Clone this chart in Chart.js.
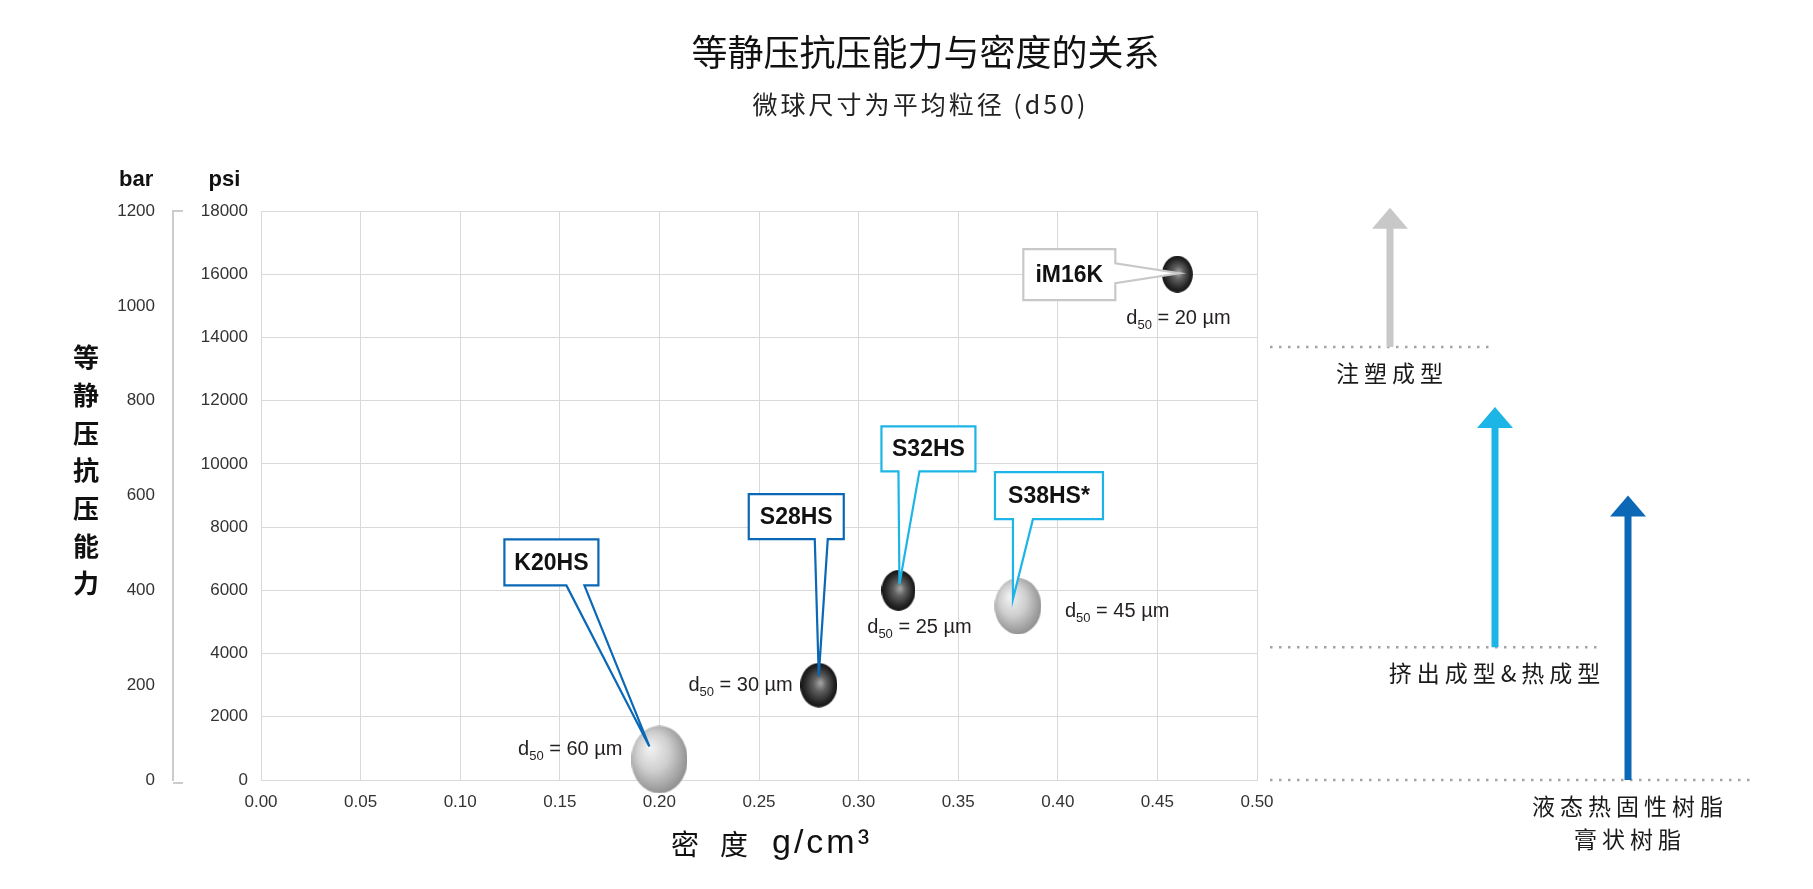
<!DOCTYPE html>
<html lang="zh">
<head>
<meta charset="UTF-8">
<title>等静压抗压能力与密度的关系</title>
<script src="https://cdn.jsdelivr.net/npm/chart.js"></script>
<style>
  html, body { margin: 0; padding: 0; background: #fff; }
</style>
</head>
<body>
<canvas id="myChart" width="1813" height="889"></canvas>
<script>
// values
const grades = ['K20HS', 'S28HS', 'S32HS', 'S38HS*', 'iM16K']
const density = [0.20, 0.28, 0.32, 0.38, 0.46]        // g/cm3
const strengthPsi = [650, 3000, 6000, 5500, 16000]   // psi
const d50 = [60, 30, 25, 45, 20]                     // um

// axes
const psiMax = 18000, psiStep = 2000
const barMax = 1200, barStep = 200
const densityMax = 0.5, densityStep = 0.05

// processing windows on the right (psi)
const processNames = [['注塑成型'], ['挤出成型&热成型'], ['液态热固性树脂', '膏状树脂']]
const processMinPsi = [13700, 4200, 0]
const processArrowPsi = [18100, 11800, 9000]

// ---- styles ----
const LATIN = '"Liberation Sans", Arial, sans-serif'
const CJK = '"Noto Sans CJK SC", "Noto Sans", sans-serif'
const GRID = '#d9d9d9'
const DARKBLUE = '#0a68b6'
const CYAN = '#1db5e6'
const LIGHTGRAY = '#c8c8c8'

const ballShade = ['light', 'dark', 'dark', 'light', 'dark']
const calloutColor = [DARKBLUE, DARKBLUE, CYAN, CYAN, LIGHTGRAY]
// callout box relative to ball centre: [left, top, w, h]; pointer base along edge; tip
const callouts = [
  {box: [-155, -220, 94, 46], side: 'bottom', base: [-93, -75], tip: [-10, -13]},
  {box: [-70, -191, 95, 45], side: 'bottom', base: [-4, 9], tip: [0, -9]},
  {box: [-17, -164, 94, 45], side: 'bottom', base: [0, 21], tip: [1, -6]},
  {box: [-23, -134, 108, 47], side: 'bottom', base: [-5, 15], tip: [-5, -7]},
  {box: [-154, -25, 92, 51], side: 'right', base: [-11, 9], tip: [2, -1]}
]
const d50Pos = [
  {dx: -37, dy: -10, align: 'right'},
  {dx: -26, dy: 0, align: 'right'},
  {dx: 21, dy: 37, align: 'center'},
  {dx: 47, dy: 5, align: 'left'},
  {dx: -51, dy: 44, align: 'left'}
]
const processColor = [LIGHTGRAY, CYAN, DARKBLUE]
const arrowDx = [133, 238, 371]      // from right edge of plot
const dottedEnd = [238, 343, 493]

function makeBall(rx, ry, shade) {
  const c = document.createElement('canvas')
  c.width = Math.round(rx * 2)
  c.height = Math.round(ry * 2)
  const g = c.getContext('2d')
  g.translate(c.width / 2, c.height / 2)
  g.scale(1, ry / rx)
  let grad
  if (shade === 'dark') {
    grad = g.createRadialGradient(rx * 0.1, -rx * 0.1, 0, 0, 0, rx)
    grad.addColorStop(0, '#a8a8a8')
    grad.addColorStop(0.35, '#606060')
    grad.addColorStop(0.8, '#262626')
    grad.addColorStop(1, '#141414')
  } else {
    grad = g.createRadialGradient(-rx * 0.35, -rx * 0.35, 0, -rx * 0.1, -rx * 0.1, rx * 1.15)
    grad.addColorStop(0, '#f4f4f4')
    grad.addColorStop(0.5, '#cfcfcf')
    grad.addColorStop(1, '#8e8e8e')
  }
  g.fillStyle = grad
  g.beginPath()
  g.arc(0, 0, rx, 0, Math.PI * 2)
  g.fill()
  return c
}

const ballRx = d50.map(d => 9 + 0.32 * d)
const balls = d50.map((d, i) => makeBall(ballRx[i], ballRx[i] * 1.2, ballShade[i]))

function drawD50(ctx, x, y, align, val) {
  const big = '20px ' + LATIN, small = '13px ' + LATIN
  const rest = ' = ' + val + ' µm'
  ctx.font = big
  const wd = ctx.measureText('d').width
  const wr = ctx.measureText(rest).width
  ctx.font = small
  const ws = ctx.measureText('50').width
  const total = wd + ws + wr
  let x0 = x
  if (align === 'right') x0 = x - total
  if (align === 'center') x0 = x - total / 2
  ctx.fillStyle = '#231f20'
  ctx.textAlign = 'left'
  ctx.textBaseline = 'middle'
  ctx.font = big
  ctx.fillText('d', x0, y)
  ctx.font = small
  ctx.fillText('50', x0 + wd, y + 7)
  ctx.font = big
  ctx.fillText(rest, x0 + wd + ws, y)
}

const extras = {
  id: 'extras',
  afterDatasetsDraw(chart) {
    const ctx = chart.ctx
    const meta = chart.getDatasetMeta(0)
    ctx.save()
    meta.data.forEach((pt, i) => {
      const c = callouts[i]
      const [bl, bt, bw, bh] = c.box
      const L = pt.x + bl, T = pt.y + bt, R = L + bw, B = T + bh
      const tx = pt.x + c.tip[0], ty = pt.y + c.tip[1]
      ctx.beginPath()
      ctx.moveTo(L, T)
      ctx.lineTo(R, T)
      if (c.side === 'bottom') {
        ctx.lineTo(R, B)
        ctx.lineTo(pt.x + c.base[1], B)
        ctx.lineTo(tx, ty)
        ctx.lineTo(pt.x + c.base[0], B)
        ctx.lineTo(L, B)
      } else {
        ctx.lineTo(R, pt.y + c.base[0])
        ctx.lineTo(tx, ty)
        ctx.lineTo(R, pt.y + c.base[1])
        ctx.lineTo(R, B)
        ctx.lineTo(L, B)
      }
      ctx.closePath()
      ctx.fillStyle = '#fff'
      ctx.fill()
      ctx.strokeStyle = calloutColor[i]
      ctx.lineWidth = 2.2
      ctx.lineJoin = 'miter'
      ctx.stroke()
      ctx.fillStyle = '#111'
      ctx.font = 'bold 23px ' + LATIN
      ctx.textAlign = 'center'
      ctx.textBaseline = 'middle'
      ctx.fillText(grades[i], L + bw / 2, T + bh / 2 + 1)

      const p = d50Pos[i]
      drawD50(ctx, pt.x + p.dx, pt.y + p.dy, p.align, d50[i])
    })
    ctx.restore()
  },
  afterDraw(chart) {
    const ctx = chart.ctx
    const area = chart.chartArea
    const psi = chart.scales.psi
    const bar = chart.scales.bar
    ctx.save()

    // titles
    ctx.fillStyle = '#111'
    ctx.textAlign = 'center'
    ctx.textBaseline = 'middle'
    ctx.font = '36px ' + CJK
    ctx.fillText('等静压抗压能力与密度的关系', chart.width / 2 + 19, 52)
    ctx.fillStyle = '#222'
    ctx.font = '25px ' + CJK
    ctx.letterSpacing = '3px'
    ctx.fillText('微球尺寸为平均粒径 (d50)', chart.width / 2 + 14, 104)
    ctx.letterSpacing = '0px'

    // x axis title, spaced out as in the original
    const xMid = (area.left + area.right) / 2
    const ty = area.bottom + 64
    ctx.fillStyle = '#111'
    ctx.font = '28px ' + CJK
    ctx.fillText('密', xMid - 74, ty)
    ctx.fillText('度', xMid - 25, ty)
    ctx.font = '34px ' + LATIN
    ctx.textAlign = 'left'
    ctx.letterSpacing = '3px'
    ctx.fillText('g/cm³', xMid + 13, ty)
    ctx.letterSpacing = '0px'
    ctx.textAlign = 'center'

    // unit headers
    ctx.font = '17px ' + LATIN
    const wBar = ctx.measureText(String(barMax)).width
    const wPsi = ctx.measureText(String(psiMax)).width
    ctx.fillStyle = '#111'
    ctx.font = 'bold 22px ' + LATIN
    ctx.fillText('bar', bar.right - 18 - wBar / 2, area.top - 31)
    ctx.fillText('psi', psi.right - 13 - wPsi / 2, area.top - 31)

    // bracket ends on the bar axis
    ctx.strokeStyle = '#cccccc'
    ctx.lineWidth = 2
    ctx.beginPath()
    ctx.moveTo(bar.right, area.top)
    ctx.lineTo(bar.right + 10, area.top)
    ctx.moveTo(bar.right, area.bottom + 3)
    ctx.lineTo(bar.right + 10, area.bottom + 3)
    ctx.stroke()

    // vertical y title
    const yChars = Array.from('等静压抗压能力')
    ctx.fillStyle = '#111'
    ctx.font = 'bold 26px ' + CJK
    const step = 37.7
    const yMid = (area.top + area.bottom) / 2 - 25
    yChars.forEach((ch, k) => {
      ctx.fillText(ch, 86, yMid + (k - (yChars.length - 1) / 2) * step)
    })

    // processing windows: dotted level, arrow, label
    processMinPsi.forEach((lv, i) => {
      const y = psi.getPixelForValue(lv)
      const yTop = psi.getPixelForValue(processArrowPsi[i])
      const ax = area.right + arrowDx[i]
      ctx.strokeStyle = '#a3a3a3'
      ctx.lineWidth = 2.5
      ctx.setLineDash([2.5, 6.5])
      ctx.beginPath()
      ctx.moveTo(area.right + 13, y)
      ctx.lineTo(area.right + dottedEnd[i], y)
      ctx.stroke()
      ctx.setLineDash([])

      ctx.fillStyle = processColor[i]
      const headH = 21, headW = 36
      ctx.fillRect(ax - 3.5, yTop + headH - 1, 7, y - yTop - headH + 1)
      ctx.beginPath()
      ctx.moveTo(ax, yTop)
      ctx.lineTo(ax + headW / 2, yTop + headH)
      ctx.lineTo(ax - headW / 2, yTop + headH)
      ctx.closePath()
      ctx.fill()

      ctx.fillStyle = '#1a1a1a'
      ctx.font = '23px ' + CJK
      ctx.letterSpacing = '5px'
      ctx.textAlign = 'center'
      processNames[i].forEach((line, k) => {
        ctx.fillText(line, ax + 2, y + 26 + k * 33)
      })
      ctx.letterSpacing = '0px'
    })
    ctx.restore()
  }
}

new Chart(document.getElementById('myChart'), {
  type: 'scatter',
  data: {
    datasets: [{
      label: '等静压抗压能力',
      data: density.map((x, i) => ({x: x, y: strengthPsi[i]})),
      yAxisID: 'psi',
      pointStyle: balls,
      pointRadius: ballRx,
      pointHoverRadius: ballRx,
      clip: false
    }]
  },
  options: {
    responsive: false,
    animation: false,
    devicePixelRatio: 1,
    events: [],
    layout: {padding: {left: 0, right: 556, top: 211, bottom: 0}},
    plugins: {
      legend: {display: false},
      tooltip: {enabled: false}
    },
    scales: {
      x: {
        type: 'linear',
        min: 0,
        max: densityMax,
        ticks: {
          stepSize: densityStep,
          callback: v => v.toFixed(2),
          font: {size: 17, family: LATIN},
          color: '#333',
          padding: 12,
          maxRotation: 0
        },
        grid: {color: GRID, drawTicks: false},
        border: {color: GRID},
        afterFit(s) { s.height = 109 }
      },
      psi: {
        type: 'linear',
        position: 'left',
        weight: 0,
        min: 0,
        max: psiMax,
        ticks: {
          stepSize: psiStep,
          callback: v => String(v),
          font: {size: 17, family: LATIN},
          color: '#333',
          padding: 13
        },
        grid: {color: GRID, drawTicks: false},
        border: {color: GRID},
        afterFit(s) { s.width = 88 }
      },
      bar: {
        type: 'linear',
        position: 'left',
        weight: 1,
        min: 0,
        max: barMax,
        ticks: {
          stepSize: barStep,
          callback: v => String(v),
          font: {size: 17, family: LATIN},
          color: '#333',
          padding: 18
        },
        grid: {drawOnChartArea: false, drawTicks: false},
        border: {color: '#cccccc', width: 2},
        afterFit(s) { s.width = 173 }
      }
    }
  },
  plugins: [extras]
})
</script>
</body>
</html>
